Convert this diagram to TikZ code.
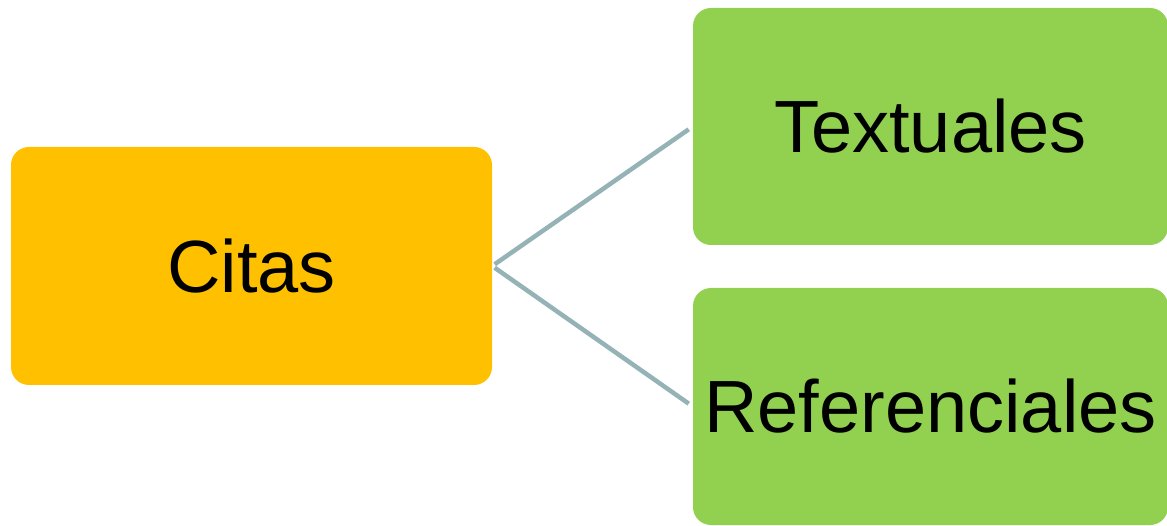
\documentclass[tikz,border=0pt]{standalone}
\usepackage{fontspec}
\setmainfont{Liberation Sans}
\definecolor{orangebox}{HTML}{FFC000}
\definecolor{greenbox}{HTML}{92D050}
\definecolor{linkcol}{HTML}{95B3B7}
\begin{document}
\begin{tikzpicture}[x=1pt,y=-1pt,
  boxstyle/.style={rounded corners=18pt, inner sep=0pt, font=\fontsize{74}{80}\selectfont, text=black},
  link/.style={draw=linkcol, line width=4.5pt, shorten <=3pt, shorten >=5pt}]
\useasboundingbox (0,0) rectangle (1167,526);
\node[boxstyle, fill=orangebox, minimum width=481pt, minimum height=238pt] (c) at (251.5,266) {Citas};
\node[boxstyle, fill=greenbox, minimum width=475pt, minimum height=237pt] (t) at (930.5,126.5) {Textuales};
\node[boxstyle, fill=greenbox, minimum width=475pt, minimum height=237pt] (r) at (930.5,406.5) {Referenciales};
\draw[link] (c.east) -- (t.west);
\draw[link] (c.east) -- (r.west);
\end{tikzpicture}
\end{document}
